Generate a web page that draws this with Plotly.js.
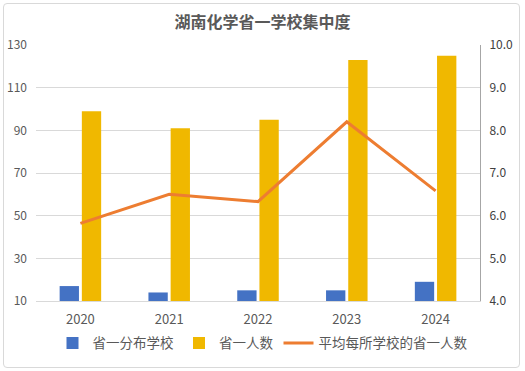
<!DOCTYPE html>
<html><head><meta charset="utf-8">
<script src="https://cdn.plot.ly/plotly-3.0.1.min.js"></script>
<style>
html,body{margin:0;padding:0;background:#fff;}
#wrap{position:relative;width:525px;height:371px;}
#chart{width:525px;height:371px;}
#frame{position:absolute;left:3px;top:3px;width:515px;height:363px;border:1px solid #d9d9d9;border-radius:4px;pointer-events:none;}
</style></head>
<body><div id="wrap"><div id="chart"></div><div id="frame"></div></div>
<script>
const years = ['2020','2021','2022','2023','2024'];
const schools = [17, 14, 15, 15, 19];
const winners = [99, 91, 95, 123, 125];
const avgPerSchool = [5.82, 6.5, 6.33, 8.2, 6.58];
const seriesNames = ['省一分布学校','省一人数','平均每所学校的省一人数'];
const titleText = '湖南化学省一学校集中度';

const font = '"Noto Sans CJK SC", "Noto Sans", sans-serif';
const baseVal = 10;
const data = [
  {type:'bar', x:years, y:schools.map(v=>v-baseVal), name:seriesNames[0], marker:{color:'#4472c4'}, base:baseVal, yaxis:'y'},
  {type:'bar', x:years, y:winners.map(v=>v-baseVal), name:seriesNames[1], marker:{color:'#f0b800'}, base:baseVal, yaxis:'y'},
  {type:'scatter', mode:'lines', x:years, y:avgPerSchool, name:seriesNames[2], line:{color:'#ed7d31', width:3}, yaxis:'y2'}
];
const layout = {
  width:525, height:371,
  margin:{l:36, r:45, t:45, b:70, autoexpand:false},
  paper_bgcolor:'#fff', plot_bgcolor:'#fff',
  font:{family:font, color:'#595959', size:12},
  title:{text:'<b>'+titleText+'</b>', x:0.5, xanchor:'center', y:0.94, yanchor:'middle', font:{size:16, color:'#595959', family:font}},
  barmode:'group', bargap:0.5, bargroupgap:0.13,
  showlegend:true,
  legend:{orientation:'h', x:0.5, xanchor:'center', xref:'container', y:0.075, yref:'container', yanchor:'middle', font:{size:13.5, color:'#595959'}, traceorder:'normal'},
  xaxis:{type:'category', showline:true, linecolor:'#d9d9d9', linewidth:1, ticks:'', tickfont:{size:13, color:'#595959'}, ticklabelstandoff:6, fixedrange:true},
  yaxis:{range:[10,130], dtick:20, tick0:10, showgrid:true, gridcolor:'#d9d9d9', zeroline:false, ticks:'', tickfont:{size:12, color:'#595959'}, ticklabelstandoff:8},
  yaxis2:{range:[4,10], dtick:1, tickformat:'.1f', overlaying:'y', side:'right', showgrid:false, zeroline:false, showline:true, linecolor:'#a6a6a6', linewidth:1, ticks:'', tickfont:{size:12, color:'#404040'}, ticklabelstandoff:6}
};
Plotly.newPlot('chart', data, layout, {displayModeBar:false, staticPlot:true});
</script></body></html>
